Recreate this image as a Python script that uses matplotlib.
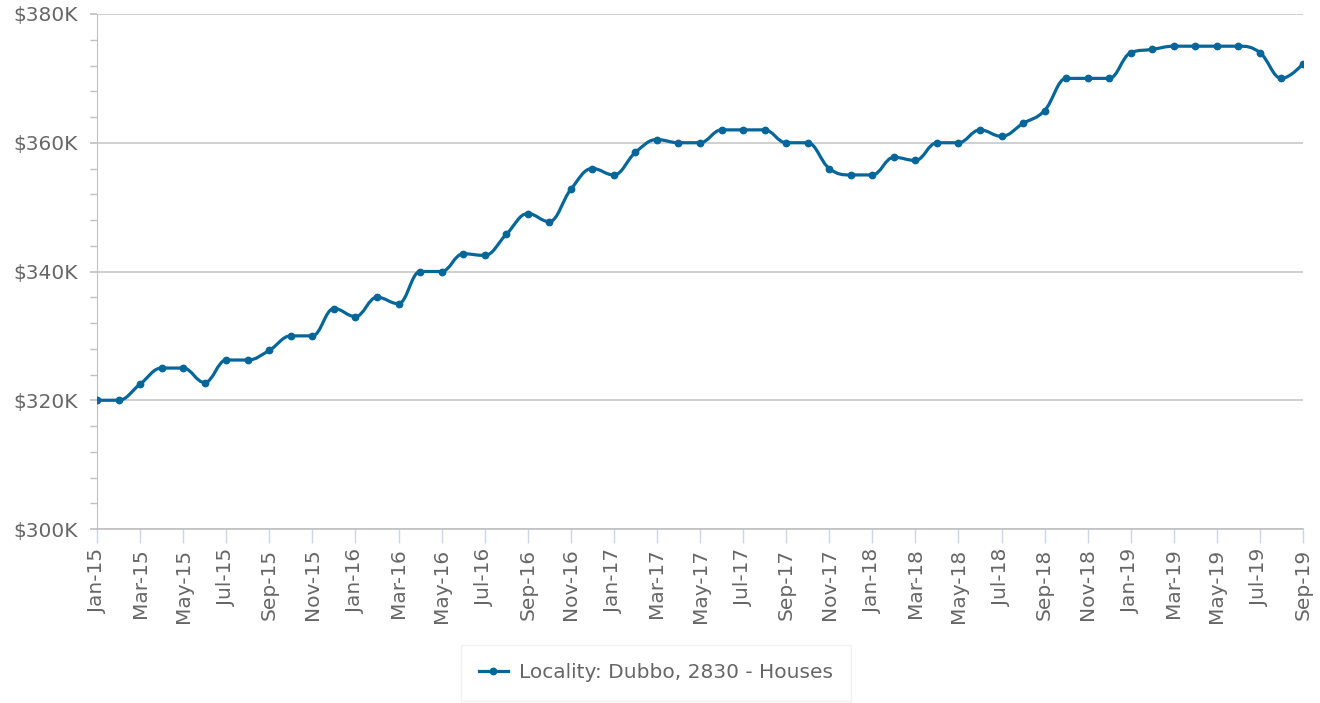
"""Median house price trend, Dubbo 2830, rendered as a smoothed line."""

import matplotlib
matplotlib.use("Agg")
import matplotlib.pyplot as plt
import numpy as np
from matplotlib.path import Path
from matplotlib.patches import PathPatch
from matplotlib.lines import Line2D
from matplotlib.ticker import FuncFormatter, MultipleLocator

months = ["Jan", "Feb", "Mar", "Apr", "May", "Jun",
          "Jul", "Aug", "Sep", "Oct", "Nov", "Dec"]
dates = [f"{m}-{y}" for y in range(15, 20) for m in months][:57]

# median price in $K, one value per month Jan-15 .. Sep-19
prices = [320, 320, 322.5, 325, 325, 322.75, 326.25, 326.25, 327.75, 330,
          330, 334.25, 333, 336, 335, 340, 340, 342.75, 342.5, 345.75,
          349, 347.75, 352.75, 356, 355, 358.5, 360.5, 360, 360, 362,
          362, 362, 360, 360, 356, 355, 355, 357.75, 357.25, 360,
          360, 362, 361, 363, 365, 370, 370, 370, 374, 374.5,
          375, 375, 375, 375, 374, 370, 372.25]
series_name = "Locality: Dubbo, 2830 - Houses"

LINE_COLOR = "#05669a"
TEXT_COLOR = "#666666"
AXIS_GRAY = "#c0c0c0"


def spline_path(xs, ys, smoothing=1.5):
    """Cubic bezier path through the points, same idea as a Highcharts spline."""
    n = len(xs)
    denom = smoothing + 1
    left = [None] * n
    right = [None] * n
    for i in range(n):
        x, y = xs[i], ys[i]
        if i == 0 or i == n - 1:
            left[i] = (x, y)
            right[i] = (x, y)
            continue
        lx, ly = xs[i - 1], ys[i - 1]
        nx, ny = xs[i + 1], ys[i + 1]
        lcx = (smoothing * x + lx) / denom
        lcy = (smoothing * y + ly) / denom
        rcx = (smoothing * x + nx) / denom
        rcy = (smoothing * y + ny) / denom
        if rcx != lcx:
            corr = (rcy - lcy) * (rcx - x) / (rcx - lcx) + y - rcy
            lcy += corr
            rcy += corr
        if lcy > ly and lcy > y:
            lcy = max(ly, y)
            rcy = 2 * y - lcy
        elif lcy < ly and lcy < y:
            lcy = min(ly, y)
            rcy = 2 * y - lcy
        if rcy > ny and rcy > y:
            rcy = max(ny, y)
            lcy = 2 * y - rcy
        elif rcy < ny and rcy < y:
            rcy = min(ny, y)
            lcy = 2 * y - rcy
        left[i] = (lcx, lcy)
        right[i] = (rcx, rcy)
    verts = [(xs[0], ys[0])]
    codes = [Path.MOVETO]
    for i in range(1, n):
        verts += [right[i - 1], left[i], (xs[i], ys[i])]
        codes += [Path.CURVE4] * 3
    return Path(verts, codes)


fig = plt.figure(figsize=(13.2, 7.03), dpi=100)
ax = fig.add_axes([97 / 1320, 1 - 529 / 703, (1303 - 97) / 1320, (529 - 14) / 703])

x = np.arange(len(prices))
y = np.array(prices, dtype=float)

ax.add_patch(PathPatch(spline_path(x, y), facecolor="none",
                       edgecolor=LINE_COLOR, linewidth=2.3, zorder=3,
                       capstyle="round", joinstyle="round"))
ax.plot(x, y, linestyle="none", marker="o", markersize=4.6,
        color=LINE_COLOR, zorder=4)

ax.set_xlim(0, len(prices) - 1)
ax.set_ylim(300, 380)

# y axis
ax.yaxis.set_major_locator(MultipleLocator(20))
ax.yaxis.set_minor_locator(MultipleLocator(4))
ax.yaxis.set_major_formatter(FuncFormatter(lambda v, _: f"${v:.0f}K"))
ax.tick_params(axis="y", which="major", length=5, width=1.2, color=AXIS_GRAY,
               pad=9, labelsize=14.5, labelcolor=TEXT_COLOR)
ax.tick_params(axis="y", which="minor", length=5, width=1, color=AXIS_GRAY)
ax.grid(True, axis="y", color="#c8c8c8", linewidth=1.2)
ax.set_axisbelow(True)

# x axis: a tick and label every second month
ax.set_xticks(x[::2])
ax.set_xticklabels(dates[::2], rotation=90)
ax.tick_params(axis="x", length=10, width=1, color="#ccd6eb",
               labelsize=14.5, labelcolor=TEXT_COLOR, pad=4)

for side in ["top", "right"]:
    ax.spines[side].set_visible(False)
ax.spines["left"].set_color(AXIS_GRAY)
ax.spines["bottom"].set_color(AXIS_GRAY)
ax.spines["bottom"].set_linewidth(1.2)

handle = Line2D([], [], color=LINE_COLOR, linewidth=2.3, marker="o",
                markersize=4.6)
leg = fig.legend([handle], [series_name], loc="center",
                 bbox_to_anchor=(656 / 1320, 1 - 673 / 703),
                 fontsize=14.5, frameon=True, fancybox=False,
                 handlelength=1.4, handletextpad=0.55, borderpad=0.9,
                 borderaxespad=0, labelcolor=TEXT_COLOR)
leg.get_frame().set_edgecolor("#eeeeee")
leg.get_frame().set_linewidth(1)

plt.savefig("out.png", dpi=100)
plt.close()
